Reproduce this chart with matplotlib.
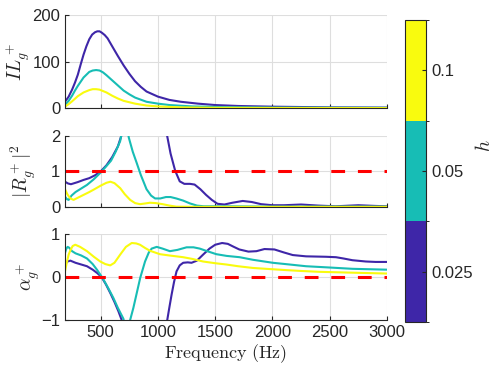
import numpy as np
import matplotlib
matplotlib.use('Agg')
import matplotlib.pyplot as plt
from matplotlib.colors import ListedColormap, BoundaryNorm
from matplotlib.cm import ScalarMappable

plt.rcParams['font.family'] = ['Liberation Sans', 'DejaVu Sans']
plt.rcParams['mathtext.fontset'] = 'cm'

# parameter values and their colours
h_labels = ['0.025', '0.05', '0.1']
h_colors = ['#3E26A8', '#17BDB5', '#F9FB0E']

# insertion loss IL_g^+
il_f = [[188, 220, 250, 275, 300, 325, 350, 375, 400, 425, 450, 470, 490, 510, 535, 560,
         600, 650, 700, 750, 800, 850, 900, 1000, 1100, 1200, 1350, 1500, 1700, 2000, 2500, 3000],
        [188, 220, 250, 275, 300, 350, 400, 430, 460, 490, 520, 550, 600, 650, 700, 750,
         800, 900, 1000, 1100, 1300, 1600, 2000, 3000],
        [188, 220, 250, 300, 350, 400, 430, 460, 490, 520, 550, 600, 650, 700, 800, 900,
         1000, 1200, 1500, 2000, 3000]]
il_v = [[14, 25, 40, 55, 72, 94, 115, 133, 148, 158, 163, 165, 165, 162, 157, 150,
         133, 112, 92, 74, 58, 46, 36, 25, 18, 14, 10, 7, 5, 3.5, 2, 1.5],
        [7, 16, 27, 38, 48, 66, 78, 81, 82, 81, 77, 71, 60, 49, 38, 30,
         23, 14, 10, 7, 4, 2.5, 1.5, 1],
        [3.5, 9, 15, 26, 34, 39, 41, 41, 40, 37, 34, 27, 21, 16, 10, 6,
         4, 2, 1.2, 0.8, 0.5]]

# reflection |R_g^+|^2
r_f = [[188, 215, 240, 300, 350, 400, 450, 500, 550, 600, 650, 690, 720, 1050, 1080, 1110,
        1150, 1190, 1230, 1280, 1320, 1370, 1420, 1470, 1520, 1580, 1650, 1740, 1820, 1900,
        2000, 2100, 2250, 2400, 2550, 2750, 2900, 3000],
       [188, 205, 220, 245, 280, 320, 380, 440, 500, 550, 590, 630, 670, 715, 745, 780,
        815, 850, 900, 940, 975, 1020, 1070, 1110, 1160, 1220, 1280, 1340, 1400, 1600,
        2000, 3000],
       [188, 210, 235, 263, 300, 350, 400, 440, 500, 550, 585, 620, 670, 710, 757, 800,
        843, 890, 930, 980, 1040, 1100, 1160, 1300, 3000]]
r_v = [[0.71, 0.66, 0.64, 0.70, 0.76, 0.81, 0.89, 1.0, 1.17, 1.4, 1.7, 2.1, 2.6, 2.6, 2.0, 1.5,
        1.02, 0.72, 0.65, 0.65, 0.63, 0.5, 0.34, 0.2, 0.09, 0.07, 0.12, 0.17, 0.14, 0.08,
        0.05, 0.05, 0.07, 0.04, 0.02, 0.05, 0.03, 0.02],
       [0.29, 0.22, 0.2, 0.32, 0.42, 0.5, 0.62, 0.78, 0.97, 1.15, 1.3, 1.55, 1.85, 2.6, 1.95, 1.55,
        1.23, 0.9, 0.5, 0.32, 0.24, 0.24, 0.28, 0.28, 0.24, 0.18, 0.1, 0.04, 0.02, 0.02,
        0.01, 0.01],
       [0.5, 0.35, 0.24, 0.2, 0.26, 0.34, 0.42, 0.49, 0.6, 0.68, 0.71, 0.67, 0.53, 0.36, 0.2, 0.11,
        0.08, 0.1, 0.12, 0.11, 0.08, 0.04, 0.01, 0.005, 0.005]]

# absorption alpha_g^+
a_f = [[188, 210, 235, 280, 330, 380, 430, 470, 507, 545, 583, 620, 655, 690, 720, 1060,
        1081, 1100, 1119, 1140, 1162, 1190, 1220, 1260, 1293, 1340, 1394, 1450, 1500, 1560,
        1610, 1655, 1710, 1790, 1860, 1930, 2017, 2100, 2177, 2293, 2467, 2554, 2620, 2698,
        2815, 2900, 3000],
       [188, 200, 211, 225, 250, 280, 330, 380, 430, 467, 500, 524, 570, 611, 650, 698,
        725, 757, 785, 815, 845, 887, 920, 945, 989, 1040, 1104, 1170, 1250, 1310, 1365,
        1430, 1510, 1600, 1713, 1829, 2003, 2150, 2293, 2500, 2698, 2850, 3000],
       [188, 205, 220, 235, 255, 278, 320, 380, 440, 496, 540, 583, 620, 670, 720, 771,
        810, 843, 890, 930, 1017, 1100, 1220, 1300, 1394, 1500, 1597, 1700, 1829, 2000,
        2119, 2250, 2409, 2700, 3000]]
a_v = [[0.3, 0.36, 0.38, 0.33, 0.29, 0.25, 0.17, 0.09, 0.0, -0.17, -0.37, -0.58, -0.8, -1.05, -1.3, -1.4,
        -1.0, -0.7, -0.41, -0.12, 0.13, 0.27, 0.33, 0.34, 0.33, 0.38, 0.52, 0.66, 0.75, 0.79,
        0.77, 0.71, 0.64, 0.59, 0.6, 0.65, 0.64, 0.57, 0.51, 0.48, 0.47, 0.46, 0.43, 0.39,
        0.36, 0.35, 0.35],
       [0.56, 0.66, 0.7, 0.68, 0.6, 0.55, 0.5, 0.43, 0.3, 0.17, 0.04, -0.06, -0.28, -0.49, -0.72, -0.97,
        -1.3, -1.0, -0.72, -0.37, -0.02, 0.36, 0.57, 0.66, 0.7, 0.66, 0.6, 0.63, 0.69, 0.69, 0.66,
        0.6, 0.53, 0.49, 0.46, 0.4, 0.33, 0.29, 0.25, 0.22, 0.19, 0.18, 0.17],
       [0.13, 0.35, 0.52, 0.62, 0.72, 0.75, 0.7, 0.6, 0.47, 0.36, 0.3, 0.27, 0.33, 0.52, 0.7, 0.79,
        0.78, 0.75, 0.67, 0.61, 0.53, 0.5, 0.46, 0.42, 0.36, 0.32, 0.29, 0.25, 0.21, 0.18,
        0.16, 0.14, 0.12, 0.1, 0.08]]

xticks = [500, 1000, 1500, 2000, 2500, 3000]
xmin, xmax = 188, 3000

fig = plt.figure(figsize=(4.98, 3.74), dpi=100)
ax1 = fig.add_axes([0.1305, 0.7104, 0.6466, 0.2495])
ax2 = fig.add_axes([0.1305, 0.4465, 0.6466, 0.1905])
ax3 = fig.add_axes([0.1305, 0.1444, 0.6466, 0.2300])

fg = '#262626'


def style(ax, yticks, ylim):
    ax.set_xlim(xmin, xmax)
    ax.set_ylim(*ylim)
    ax.set_xticks(xticks)
    ax.set_yticks(yticks)
    ax.grid(True, color='#DEDEDE', linewidth=0.8)
    ax.set_axisbelow(True)
    for s in ['top', 'right']:
        ax.spines[s].set_visible(False)
    for s in ['left', 'bottom']:
        ax.spines[s].set_color(fg)
        ax.spines[s].set_linewidth(0.8)
    ax.tick_params(direction='in', length=3, width=0.8, colors=fg, labelsize=12,
                   labelcolor=fg)


for i in range(3):
    ax1.plot(il_f[i], il_v[i], color=h_colors[i], lw=1.5)
    ax2.plot(r_f[i], r_v[i], color=h_colors[i], lw=1.5)
    ax3.plot(a_f[i], a_v[i], color=h_colors[i], lw=1.5)

ax2.axhline(1, color='#FF0000', lw=2.2, dashes=(4.5, 4.2))
ax3.axhline(0, color='#FF0000', lw=2.2, dashes=(4.5, 4.2))

style(ax1, [0, 100, 200], (0, 200))
style(ax2, [0, 1, 2], (0, 2))
style(ax3, [-1, 0, 1], (-1, 1))
ax1.set_xticklabels([])
ax2.set_xticklabels([])

ax1.set_ylabel(r'$IL_g^+$', fontsize=14, color=fg)
ax2.set_ylabel(r'$|R_g^+|^2$', fontsize=14, color=fg)
ax3.set_ylabel(r'$\alpha_g^+$', fontsize=14, color=fg)
ax1.yaxis.set_label_coords(-0.102, 0.5)
ax2.yaxis.set_label_coords(-0.084, 0.5)
ax3.yaxis.set_label_coords(-0.071, 0.5)
ax3.set_xlabel(r'$\mathrm{Frequency\ (Hz)}$', fontsize=13, color=fg, labelpad=2)

# discrete colorbar for h
cax = fig.add_axes([0.8133, 0.139, 0.0422, 0.8075])
cmap = ListedColormap(h_colors)
norm = BoundaryNorm([0, 1, 2, 3], cmap.N)
cb = fig.colorbar(ScalarMappable(norm=norm, cmap=cmap), cax=cax, ticks=[0.5, 1.5, 2.5])
cb.ax.set_yticklabels(h_labels)
cb.outline.set_edgecolor(fg)
cb.outline.set_linewidth(0.8)
cb.ax.tick_params(direction='in', length=3, width=0.8, colors=fg, labelsize=12)
fig.text(0.972, 0.61, r'$h$', rotation=90, fontsize=14, color=fg, ha='center', va='center')

fig.savefig('out.png', dpi=100)
